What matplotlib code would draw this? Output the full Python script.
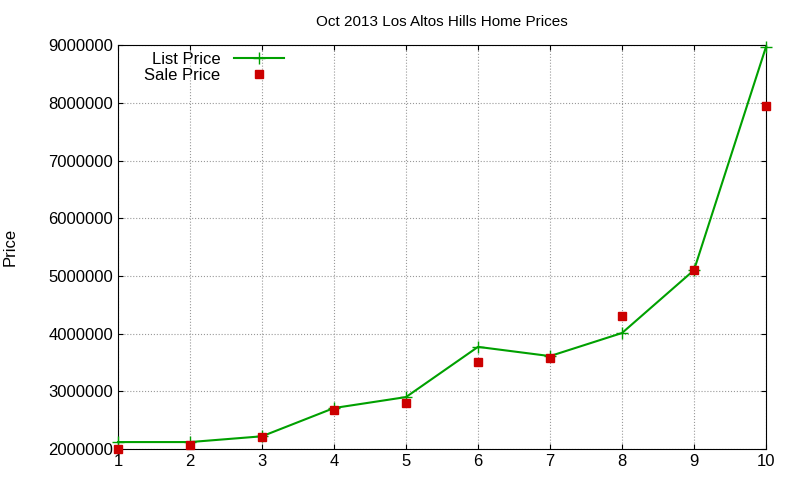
import matplotlib
matplotlib.use('Agg')
from matplotlib import pyplot as plt

plt.rcParams['font.family'] = ['Liberation Sans', 'DejaVu Sans']

homes = [1, 2, 3, 4, 5, 6, 7, 8, 9, 10]
list_price = [2120000, 2120000, 2220000, 2710000, 2900000, 3770000, 3610000, 4010000, 5100000, 8970000]
sale_price = [2000000, 2070000, 2210000, 2680000, 2800000, 3510000, 3580000, 4310000, 5100000, 7940000]

fig = plt.figure(figsize=(8, 4.8), dpi=100)
ax = fig.add_axes([0.1475, 0.0646, 0.81, 0.8414])

ax.plot(homes, list_price, color='#00a000', marker='+', markersize=8, linewidth=1.5,
        label='List Price', clip_on=False, zorder=3)
ax.plot(homes, sale_price, color='#cc0000', marker='s', markersize=6, linestyle='none',
        label='Sale Price', clip_on=False, zorder=4)

ax.set_xlim(1, 10)
ax.set_ylim(2000000, 9000000)
ax.set_xticks(homes)
ax.set_yticks(range(2000000, 9000001, 1000000))
ax.set_yticklabels([str(v) for v in range(2000000, 9000001, 1000000)])
ax.tick_params(direction='in', labelsize=12, top=True, right=True)
ax.grid(True, color='#999999', linestyle=':', linewidth=0.8)
ax.set_ylabel('Price', fontsize=12, labelpad=22)
ax.set_title('Oct 2013 Los Altos Hills Home Prices', fontsize=11, pad=14)

ax.legend(loc='upper left', markerfirst=False, frameon=False, fontsize=12, numpoints=1,
          bbox_to_anchor=(0.03, 1.0), handlelength=3, borderaxespad=0, labelspacing=0.05)

fig.savefig('out.png')
